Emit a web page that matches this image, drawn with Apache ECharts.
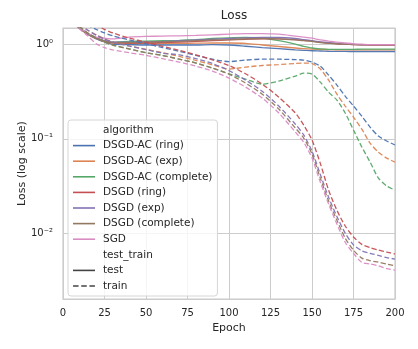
<!DOCTYPE html>
<html>
<head>
<meta charset="utf-8">
<title>Loss</title>
<script src="https://cdn.jsdelivr.net/npm/echarts@6/dist/echarts.min.js"></script>
<style>
  html, body { margin: 0; padding: 0; background: #fff; }
  #chart { width: 418px; height: 349px; }
</style>
</head>
<body>
<div id="chart"></div>
<script>
const epochs = [0, 5, 10, 15, 20, 25, 30, 40, 50, 60, 70, 80, 90, 100, 110, 120, 130, 140, 145, 150, 155, 160, 165, 170, 175, 180, 185, 190, 195, 200]

// test loss (solid)
const acRingTest = [2.3, 1.8, 1.48, 1.28, 1.15, 1.07, 1.01, 1.0, 0.99, 0.99, 0.99, 0.99, 1.0, 0.99, 0.96, 0.93, 0.905, 0.88, 0.87, 0.86, 0.855, 0.85, 0.848, 0.846, 0.845, 0.845, 0.845, 0.845, 0.845, 0.845]
const acExpTest = [2.35, 1.82, 1.49, 1.29, 1.16, 1.08, 1.04, 1.03, 1.03, 1.03, 1.03, 1.035, 1.04, 1.04, 1.03, 0.99, 0.955, 0.92, 0.905, 0.895, 0.89, 0.885, 0.882, 0.88, 0.88, 0.88, 0.88, 0.88, 0.88, 0.88]
const acCompleteTest = [2.35, 1.83, 1.5, 1.3, 1.17, 1.09, 1.06, 1.08, 1.09, 1.1, 1.11, 1.13, 1.16, 1.18, 1.19, 1.17, 1.1, 1.01, 0.96, 0.92, 0.9, 0.89, 0.89, 0.89, 0.89, 0.895, 0.895, 0.895, 0.895, 0.895]
const dsgdRingTest = [2.4, 1.85, 1.5, 1.3, 1.17, 1.09, 1.05, 1.04, 1.04, 1.05, 1.06, 1.08, 1.1, 1.12, 1.14, 1.15, 1.15, 1.13, 1.11, 1.09, 1.06, 1.04, 1.02, 1.01, 1.0, 0.995, 0.99, 0.99, 0.99, 0.99]
const dsgdExpTest = [2.4, 1.86, 1.51, 1.31, 1.18, 1.1, 1.06, 1.06, 1.07, 1.08, 1.1, 1.12, 1.14, 1.16, 1.18, 1.19, 1.19, 1.16, 1.13, 1.1, 1.07, 1.05, 1.03, 1.02, 1.01, 1.0, 1.0, 1.0, 1.0, 1.0]
const dsgdCompleteTest = [2.38, 1.84, 1.5, 1.3, 1.17, 1.09, 1.05, 1.05, 1.06, 1.07, 1.08, 1.1, 1.12, 1.13, 1.15, 1.16, 1.15, 1.12, 1.1, 1.08, 1.05, 1.03, 1.02, 1.01, 1.0, 0.995, 0.995, 0.995, 0.995, 0.995]
const sgdTest = [2.4, 1.85, 1.52, 1.32, 1.2, 1.17, 1.15, 1.2, 1.22, 1.23, 1.24, 1.25, 1.27, 1.29, 1.31, 1.31, 1.29, 1.23, 1.2, 1.17, 1.12, 1.09, 1.06, 1.04, 1.02, 1.01, 1.0, 1.0, 1.0, 1.0]

// train loss (dashed)
const acRingTrain = [2.5, 2.1, 1.8, 1.6, 1.45, 1.33, 1.24, 1.12, 1.02, 0.93, 0.85, 0.77, 0.7, 0.66, 0.685, 0.7, 0.7, 0.693, 0.685, 0.652, 0.591, 0.475, 0.372, 0.284, 0.223, 0.174, 0.133, 0.107, 0.095, 0.086]
const acExpTrain = [2.4, 1.95, 1.65, 1.42, 1.27, 1.15, 1.07, 0.97, 0.89, 0.82, 0.75, 0.68, 0.61, 0.55, 0.577, 0.6, 0.614, 0.63, 0.636, 0.63, 0.55, 0.42, 0.298, 0.223, 0.17, 0.127, 0.09, 0.072, 0.0625, 0.0567]
const acCompleteTrain = [2.3, 1.85, 1.55, 1.32, 1.17, 1.06, 0.99, 0.9, 0.82, 0.77, 0.7, 0.64, 0.565, 0.49, 0.43, 0.381, 0.41, 0.463, 0.498, 0.486, 0.4, 0.313, 0.258, 0.188, 0.124, 0.082, 0.0567, 0.0383, 0.0316, 0.0286]
const dsgdRingTrain = [2.6, 2.2, 1.9, 1.7, 1.6, 1.45, 1.33, 1.17, 1.06, 0.96, 0.87, 0.78, 0.69, 0.6, 0.49, 0.381, 0.277, 0.188, 0.14, 0.097, 0.055, 0.0286, 0.0175, 0.0119, 0.0091, 0.0076, 0.007, 0.0066, 0.0063, 0.006]
const dsgdExpTrain = [2.4, 1.95, 1.65, 1.42, 1.26, 1.144, 1.063, 0.964, 0.885, 0.81, 0.78, 0.71, 0.63, 0.53, 0.42, 0.32, 0.223, 0.143, 0.11, 0.074, 0.042, 0.024, 0.015, 0.01, 0.0075, 0.0065, 0.0061, 0.0058, 0.0055, 0.0053]
const dsgdCompleteTrain = [2.3, 1.85, 1.55, 1.325, 1.17, 1.063, 0.988, 0.896, 0.82, 0.765, 0.7, 0.636, 0.563, 0.486, 0.39, 0.298, 0.207, 0.13, 0.102, 0.069, 0.0383, 0.0219, 0.0137, 0.00885, 0.0066, 0.00543, 0.0051, 0.00492, 0.0047, 0.0045]
const sgdTrain = [2.2, 1.75, 1.46, 1.23, 1.02, 0.93, 0.88, 0.82, 0.77, 0.71, 0.652, 0.591, 0.524, 0.441, 0.354, 0.271, 0.188, 0.118, 0.092, 0.0625, 0.0348, 0.0203, 0.0125, 0.008, 0.0061, 0.0049, 0.0047, 0.0045, 0.0042, 0.00405]

const algorithms = ['DSGD-AC (ring)', 'DSGD-AC (exp)', 'DSGD-AC (complete)', 'DSGD (ring)', 'DSGD (exp)', 'DSGD (complete)', 'SGD']
const colors = ['#4c72b0', '#dd8452', '#55a868', '#c44e52', '#8172b3', '#937860', '#da8bc3']
const testSets = [acRingTest, acExpTest, acCompleteTest, dsgdRingTest, dsgdExpTest, dsgdCompleteTest, sgdTest]
const trainSets = [acRingTrain, acExpTrain, acCompleteTrain, dsgdRingTrain, dsgdExpTrain, dsgdCompleteTrain, sgdTrain]

const xTicks = [0, 25, 50, 75, 100, 125, 150, 175, 200]
const yTickValues = [0.01, 0.1, 1]
const yTickLabels = ['10⁻²', '10⁻¹', '10⁰']

const font = 'DejaVu Sans'
const textColor = '#262626'
const gridColor = '#cccccc'

// legend icons: a plain bar for solid, three bars for dashed
const solidIcon = 'path://M0,0H22V1.6H0Z'
const dashIcon = 'path://M0,0H5.5V1.6H0Z M8.2,0H13.7V1.6H8.2Z M16.4,0H21.9V1.6H16.4Z'

function pairs (ys) {
  return epochs.map((e, i) => [e, ys[i]])
}

let series = []
algorithms.forEach((name, i) => {
  series.push({
    name: name,
    type: 'line',
    data: pairs(testSets[i]),
    symbol: 'none',
    smooth: 0.25,
    color: colors[i],
    lineStyle: { width: 1.3, opacity: 0.95 }
  })
})
algorithms.forEach((name, i) => {
  series.push({
    name: name,
    type: 'line',
    data: pairs(trainSets[i]),
    symbol: 'none',
    smooth: 0.25,
    color: colors[i],
    lineStyle: { width: 1.3, opacity: 0.95, type: [5, 2.5] }
  })
})
// legend-only entries
series.push({ name: 'algorithm', type: 'line', data: [], symbol: 'none', color: 'rgba(0,0,0,0)' })
series.push({ name: 'test_train', type: 'line', data: [], symbol: 'none', color: 'rgba(0,0,0,0)' })
series.push({ name: 'test', type: 'line', data: [], symbol: 'none', color: '#444' })
series.push({ name: 'train', type: 'line', data: [], symbol: 'none', color: '#444' })

let legendData = [{ name: 'algorithm', icon: solidIcon, itemStyle: { opacity: 0 } }]
algorithms.forEach(name => legendData.push({ name: name, icon: solidIcon }))
legendData.push({ name: 'test_train', icon: solidIcon, itemStyle: { opacity: 0 } })
legendData.push({ name: 'test', icon: solidIcon })
legendData.push({ name: 'train', icon: dashIcon })

const chart = echarts.init(document.getElementById('chart'))
chart.setOption({
  animation: false,
  backgroundColor: '#fff',
  title: {
    text: 'Loss',
    left: 229,
    top: 5,
    textAlign: 'center',
    textStyle: { fontFamily: font, fontSize: 12, fontWeight: 'normal', color: textColor }
  },
  grid: {
    left: 63,
    right: 23,
    top: 28,
    bottom: 50,
    show: true,
    borderColor: gridColor,
    borderWidth: 1.25
  },
  legend: {
    orient: 'vertical',
    left: 68,
    top: 120,
    data: legendData,
    itemWidth: 22,
    itemHeight: 1.6,
    itemGap: 3.6,
    padding: [4, 5, 4, 5],
    backgroundColor: 'rgba(255,255,255,0.8)',
    borderColor: '#d6d6d6',
    borderWidth: 1,
    borderRadius: 3,
    selectedMode: false,
    textStyle: { fontFamily: font, fontSize: 10.5, color: textColor, lineHeight: 12, padding: [0, 0, 0, 3] }
  },
  xAxis: {
    type: 'value',
    min: 0,
    max: 200,
    interval: 25,
    name: 'Epoch',
    nameLocation: 'middle',
    nameGap: 24,
    nameMoveOverlap: false,
    nameTextStyle: { fontFamily: font, fontSize: 11, color: textColor },
    axisLine: { show: false },
    axisTick: { show: false },
    axisLabel: {
      margin: 9,
      fontFamily: font,
      fontSize: 10,
      color: textColor,
      formatter: v => xTicks.indexOf(v) >= 0 ? String(v) : ''
    },
    splitLine: { show: true, lineStyle: { color: gridColor, width: 1 } }
  },
  yAxis: {
    type: 'log',
    logBase: 10,
    min: 0.002,
    max: 1.5,
    name: 'Loss (log scale)',
    nameLocation: 'middle',
    nameGap: 35,
    nameMoveOverlap: false,
    nameTextStyle: { fontFamily: font, fontSize: 11, color: textColor },
    axisLine: { show: false },
    axisTick: { show: false },
    minorTick: { show: false },
    axisLabel: {
      margin: 10,
      fontFamily: font,
      fontSize: 10,
      color: textColor,
      formatter: v => {
        const i = yTickValues.findIndex(t => Math.abs(Math.log10(v) - Math.log10(t)) < 1e-6)
        return i >= 0 ? yTickLabels[i] : ''
      }
    },
    splitLine: { show: true, lineStyle: { color: gridColor, width: 1 } }
  },
  series: series
})
</script>
</body>
</html>
